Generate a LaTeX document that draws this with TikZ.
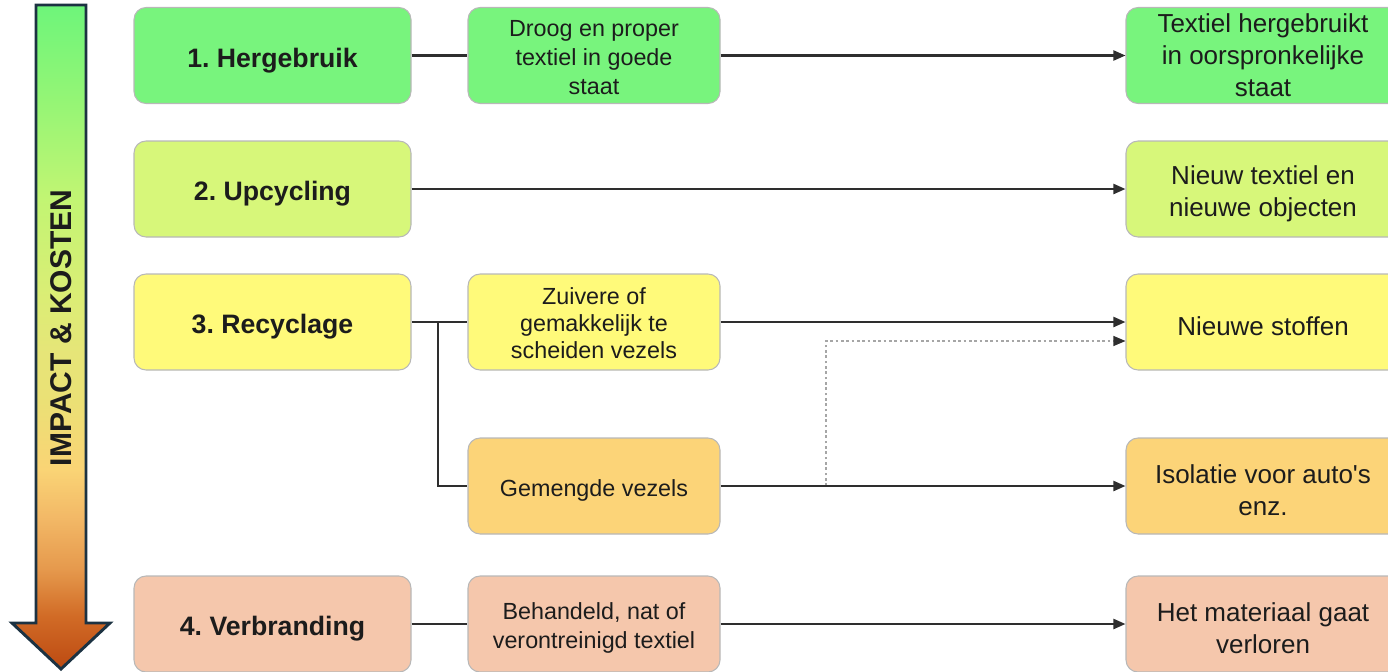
\documentclass[tikz,border=0pt]{standalone}
\usepackage{fontspec}
\setmainfont{Liberation Sans}
\usetikzlibrary{arrows.meta}
\frenchspacing
\definecolor{cA}{RGB}{120,244,125}
\definecolor{cB}{RGB}{215,247,122}
\definecolor{cC}{RGB}{255,250,122}
\definecolor{cD}{RGB}{252,212,120}
\definecolor{cE}{RGB}{245,199,172}
\definecolor{txt}{RGB}{28,28,28}
\definecolor{arrline}{RGB}{28,50,66}
\pgfdeclareverticalshading{impact}{100bp}{rgb(0bp)=(0.74,0.29,0.07); rgb(25bp)=(0.74,0.29,0.07); rgb(29bp)=(0.82,0.42,0.15); rgb(32.5bp)=(0.9,0.6,0.3); rgb(36.3bp)=(0.95,0.72,0.4); rgb(40bp)=(0.98,0.83,0.46); rgb(45.3bp)=(0.92,0.88,0.46); rgb(49bp)=(0.9,0.9,0.47); rgb(52.9bp)=(0.86,0.93,0.46); rgb(60.4bp)=(0.76,0.96,0.45); rgb(67.9bp)=(0.58,0.96,0.46); rgb(75bp)=(0.43,0.96,0.48); rgb(100bp)=(0.43,0.96,0.48)}
\tikzset{
  box/.style={rounded corners=9pt, draw=black!28, line width=0.8pt, inner sep=0pt, minimum height=96*0.75pt},
  lbox/.style={box, minimum width=277*0.75pt},
  mbox/.style={box, minimum width=252*0.75pt},
  rbox/.style={box, minimum width=274*0.75pt},
  lt/.style={align=center, text=txt, inner sep=0pt, font=\bfseries\fontsize{20}{24}\selectfont},
  mt/.style={align=center, text=txt, inner sep=0pt, font=\fontsize{17.5}{21.5}\selectfont},
  rt/.style={align=center, text=txt, inner sep=0pt, font=\fontsize{19.5}{24}\selectfont},
  conn/.style={line width=1.6pt, draw=black!82},
  arr/.style={conn, -{Triangle[length=9pt,width=7.5pt]}},
  dashconn/.style={line width=0.8pt, draw=black!35, dash pattern=on 2pt off 2pt, -{Triangle[length=9pt,width=7.5pt,color=black!82,fill=black!82]}},
}
\begin{document}
\begin{tikzpicture}[x=0.75pt,y=-0.75pt]
\useasboundingbox (0,0) rectangle (1388,671);
% big arrow
\path[shading=impact, draw=arrline, line width=2.2pt, line join=miter]
  (36,5) -- (86,5) -- (86,623) -- (110,623) -- (61,669) -- (12,623) -- (36,623) -- cycle;
\node[rotate=90, font=\bfseries\fontsize{22.5}{26}\selectfont, text=txt] (lbl) at (61,328) {IMPACT \& KOSTEN};
% boxes
\node[lbox, fill=cA] (l1) at (272.5,55.5) {};
\node[lbox, fill=cB] (l2) at (272.5,189) {};
\node[lbox, fill=cC] (l3) at (272.5,322) {};
\node[lbox, fill=cE] (l5) at (272.5,624) {};
\node[mbox, fill=cA] (m1) at (594,55.5) {};
\node[mbox, fill=cC] (m3) at (594,322) {};
\node[mbox, fill=cD] (m4) at (594,486) {};
\node[mbox, fill=cE] (m5) at (594,624) {};
\node[rbox, fill=cA] (r1) at (1263,55.5) {};
\node[rbox, fill=cB] (r2) at (1263,189) {};
\node[rbox, fill=cC] (r3) at (1263,322) {};
\node[rbox, fill=cD] (r4) at (1263,486) {};
\node[rbox, fill=cE] (r5) at (1263,624) {};
% texts
\node[lt] (l1t) at ([yshift=-3.5pt]l1.center) {1. Hergebruik};
\node[lt] (l2t) at ([yshift=-3.5pt]l2.center) {2. Upcycling};
\node[lt] (l3t) at ([yshift=-3.5pt]l3.center) {3. Recyclage};
\node[lt] (l5t) at ([yshift=-3.5pt]l5.center) {4. Verbranding};
\node[mt] (m1t) at ([yshift=-1.5pt]m1.center) {Droog en proper\\textiel in goede\\staat};
\node[mt, font=\fontsize{17.5}{20.5}\selectfont] (m3t) at ([yshift=-0.8pt]m3.center) {Zuivere of\\gemakkelijk te\\scheiden vezels};
\node[mt] (m4t) at ([yshift=-3.5pt]m4.center) {Gemengde vezels};
\node[mt] (m5t) at ([yshift=-3pt]m5.center) {Behandeld, nat of\\verontreinigd textiel};
\node[rt] (r1t) at (r1.center) {Textiel hergebruikt\\in oorspronkelijke\\staat};
\node[rt] (r2t) at ([yshift=-3.5pt]r2.center) {Nieuw textiel en\\nieuwe objecten};
\node[rt] (r3t) at ([yshift=-3pt]r3.center) {Nieuwe stoffen};
\node[rt] (r4t) at ([yshift=-3pt]r4.center) {Isolatie voor auto\textquotesingle s\\enz.};
\node[rt] (r5t) at ([yshift=-3pt]r5.center) {Het materiaal gaat\\verloren};
% connectors
\draw[conn] (l1) -- (m1);
\draw[arr] (m1) -- (r1);
\draw[arr] (l2) -- (r2);
\draw[conn] (l3) -- (m3);
\coordinate (j3) at (438,322);
\draw[conn] (j3) |- (m4.west);
\draw[arr] (m3) -- (r3);
\coordinate (d4) at (826,486);
\draw[dashconn] (d4) |- ([yshift=-14.25pt]r3.west);
\draw[arr] (m4) -- (r4);
\draw[conn] (l5) -- (m5);
\draw[arr] (m5) -- (r5);
\end{tikzpicture}
\end{document}
